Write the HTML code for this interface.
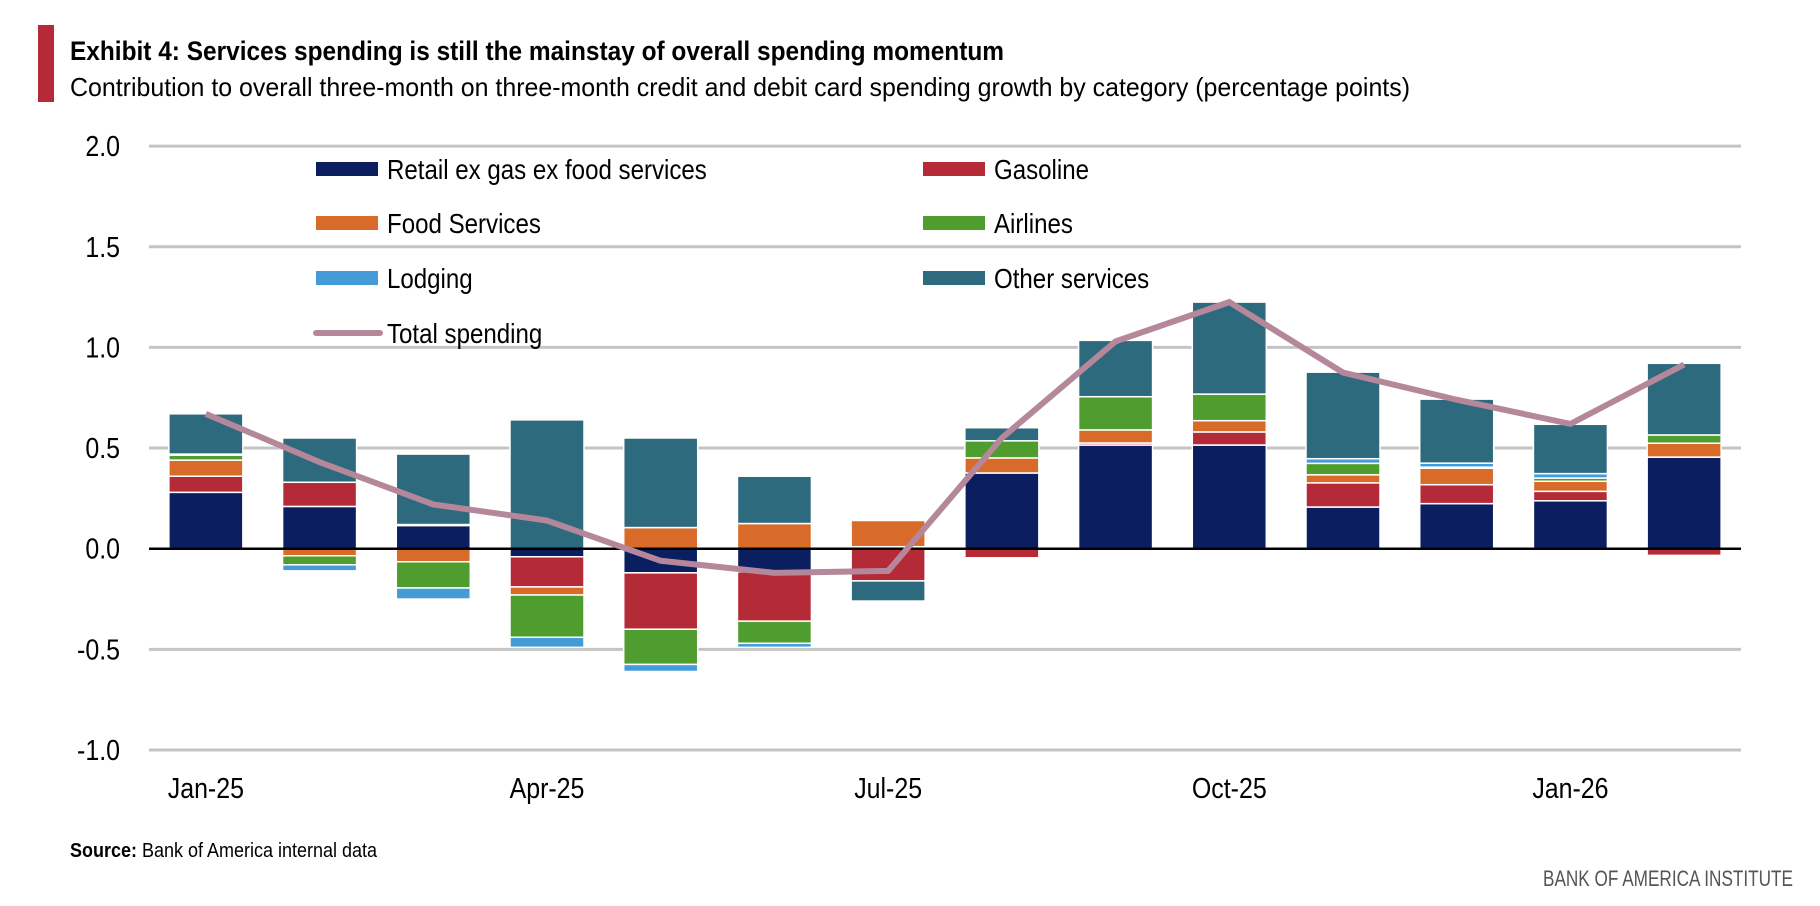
<!DOCTYPE html>
<html><head><meta charset="utf-8"><style>
html,body{margin:0;padding:0;background:#fff;}
svg{display:block;font-family:"Liberation Sans Narrow","Liberation Sans",sans-serif;}
</style></head><body>
<svg id="chart" width="1820" height="906" viewBox="0 0 1820 906" xmlns="http://www.w3.org/2000/svg">
<rect x="38" y="25" width="16" height="77" fill="#b42a36"/>
<text x="70" y="60" font-size="27" font-weight="bold" fill="#000" textLength="934" lengthAdjust="spacingAndGlyphs">Exhibit 4: Services spending is still the mainstay of overall spending momentum</text>
<text x="70" y="96" font-size="26" fill="#000" textLength="1340" lengthAdjust="spacingAndGlyphs">Contribution to overall three-month on three-month credit and debit card spending growth by category (percentage points)</text>
<g id="grid"></g>
<g id="ylabels"></g>
<g id="bars"></g>
<line id="zero" stroke="#000" stroke-width="2.5"/>
<g id="line"></g>
<g id="xlabels"></g>
<g id="legend"></g>
<g transform="translate(70,857) scale(0.9,1)"><text x="0" y="0" font-size="20" fill="#000"><tspan font-weight="bold">Source:</tspan> Bank of America internal data</text></g>
<text x="1793" y="886" font-size="22" fill="#555" text-anchor="end" textLength="250" lengthAdjust="spacingAndGlyphs">BANK OF AMERICA INSTITUTE</text>
</svg>
<script>
const categories = ["Jan-25","Feb-25","Mar-25","Apr-25","May-25","Jun-25","Jul-25","Aug-25","Sep-25","Oct-25","Nov-25","Dec-25","Jan-26","Feb-26"];
const retail   = [0.28,0.21,0.115,-0.04,-0.12,-0.115,0.01,0.376,0.515,0.515,0.207,0.224,0.238,0.455];
const gasoline = [0.08,0.12,0.005,-0.15,-0.28,-0.245,-0.16,-0.045,0.01,0.065,0.12,0.094,0.047,-0.033];
const food     = [0.08,-0.035,-0.065,-0.04,0.105,0.125,0.13,0.075,0.065,0.056,0.04,0.082,0.05,0.069];
const airlines = [0.025,-0.045,-0.13,-0.21,-0.175,-0.11,0,0.085,0.165,0.132,0.057,0.005,0.016,0.041];
const lodging  = [0.005,-0.03,-0.055,-0.05,-0.035,-0.02,0,0,0,0,0.023,0.02,0.022,0];
const other    = [0.2,0.22,0.35,0.64,0.445,0.235,-0.1,0.065,0.28,0.457,0.43,0.318,0.245,0.356];
const total    = [0.67,0.43,0.22,0.14,-0.06,-0.12,-0.11,0.55,1.03,1.225,0.875,0.74,0.62,0.915];
const yTicks = [2.0,1.5,1.0,0.5,0.0,-0.5,-1.0];
const yTickLabels = ["2.0","1.5","1.0","0.5","0.0","-0.5","-1.0"];
const xTickIdx = [0,3,6,9,12];
const xTickLabels = ["Jan-25","Apr-25","Jul-25","Oct-25","Jan-26"];

const NS="http://www.w3.org/2000/svg";
const X0=149,X1=1741,Y0=548.7,PPU=201.3;
const band=(X1-X0)/categories.length, bw=74;
const xc=i=>X0+band*(i+0.5);
const y=v=>Y0-v*PPU;
const SX=0.86;
function mk(tag,attrs,parent){const e=document.createElementNS(NS,tag);for(const k in attrs)e.setAttribute(k,attrs[k]);parent.appendChild(e);return e;}
function ctext(parent,x,yy,size,anchor,str){
  const g=mk('g',{transform:'translate('+x+','+yy+') scale('+SX+',1)'},parent);
  const t=mk('text',{x:0,y:0,'font-size':size,'text-anchor':anchor,fill:'#000'},g);
  t.textContent=str; return t;
}

const grid=document.getElementById('grid'), yl=document.getElementById('ylabels');
yTicks.forEach((t,i)=>{
  if(t!==0){const g=mk('line',{x1:X0,x2:X1,y1:y(t),y2:y(t),stroke:'#c4c4c4','stroke-width':3},grid);
  
  }
  const tx=ctext(yl,120,y(t)+10,29,'end',yTickLabels[i]);
  
  
});
const z=document.getElementById('zero');
z.setAttribute('x1',X0);z.setAttribute('x2',X1);z.setAttribute('y1',y(0));z.setAttribute('y2',y(0));

const series=[["retail",retail,"#0b1f60"],["gasoline",gasoline,"#b42a36"],["food-services",food,"#d86a2a"],["airlines",airlines,"#4f9d2f"],["lodging",lodging,"#439bd8"],["other-services",other,"#2e6a7e"]];
const bars=document.getElementById('bars');
categories.forEach((c,i)=>{
  let pos=0,neg=0;
  series.forEach(([nm,arr,col])=>{
    const v=arr[i]; if(!v) return;
    let a,b; if(v>0){a=pos;b=pos+v;pos=b;}else{a=neg;b=neg+v;neg=b;}
    const top=y(Math.max(a,b)), h=Math.abs(y(a)-y(b));
    const r=mk('rect',{x:xc(i)-bw/2,y:top,width:bw,height:h,fill:col,stroke:'#fff','stroke-width':1.5},bars);
    
    
  });
});

const lg=document.getElementById('line');
const pts=total.map((v,i)=>xc(i)+','+y(v)).join(' ');
const pl=mk('polyline',{points:pts,fill:'none',stroke:'#b5879a','stroke-width':6,'stroke-linejoin':'miter'},lg);



const xl=document.getElementById('xlabels');
xTickIdx.forEach((idx,k)=>{
  const t=ctext(xl,xc(idx),798,29,'middle',xTickLabels[k]);
  
  
});

const legendItems=[["Retail ex gas ex food services","#0b1f60",316,169,'rect'],["Gasoline","#b42a36",923,169,'rect'],["Food Services","#d86a2a",316,223,'rect'],["Airlines","#4f9d2f",923,223,'rect'],["Lodging","#439bd8",316,278,'rect'],["Other services","#2e6a7e",923,278,'rect'],["Total spending","#b5879a",316,333,'line']];
const lgd=document.getElementById('legend');
legendItems.forEach(([label,col,x,yy,kind])=>{
  const g=mk('g',{},lgd);
  
  
  if(kind==='rect') mk('rect',{x:x,y:yy-7,width:62,height:14,fill:col},g);
  else mk('line',{x1:x,x2:x+64,y1:yy,y2:yy,stroke:col,'stroke-width':6,'stroke-linecap':'round'},g);
  ctext(g,x+71,yy+10,28,'start',label);
});
</script>
</body></html>
